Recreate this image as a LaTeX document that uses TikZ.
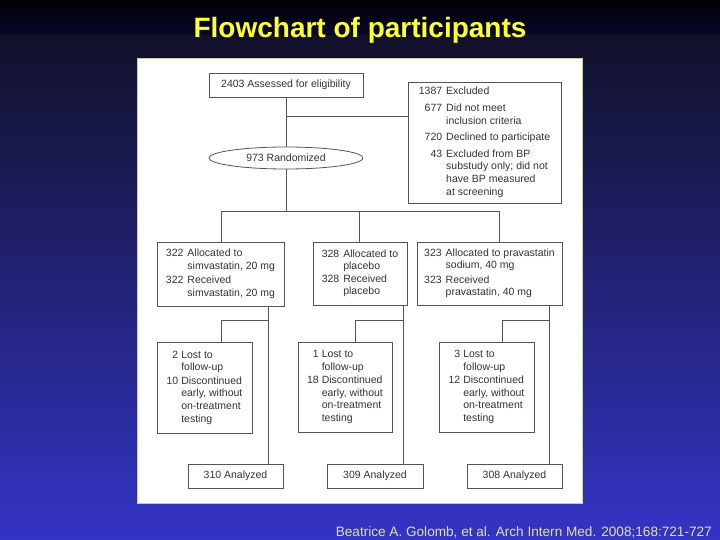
\documentclass[tikz,border=0pt]{standalone}
\usepackage{fontspec}
\setmainfont{Liberation Sans}
\usepackage{tikz}
\usetikzlibrary{shapes.geometric, positioning, calc}
\definecolor{ink}{HTML}{333333}
\definecolor{rule}{HTML}{555555}
\definecolor{titleyellow}{HTML}{FFFF2E}
\definecolor{citeyellow}{HTML}{E2E2A6}
\definecolor{panelline}{HTML}{CBCBA9}
\definecolor{bgtopA}{HTML}{000006}
\definecolor{bgtopB}{HTML}{08082A}
\definecolor{bgA}{HTML}{11112A}
\definecolor{bgB}{HTML}{3434C6}
\newcommand{\chartfont}{\fontsize{10.5}{12.6}\selectfont}

\begin{document}
\begin{tikzpicture}[x=1pt, y=-1pt,
    box/.style={draw=rule, line width=0.6pt, fill=white, text=ink, font=\chartfont, inner sep=0pt},
    link/.style={draw=rule, line width=0.6pt}]
    \useasboundingbox (0,0) rectangle (720,540);
    % Slide background
    \fill[top color=bgtopA, bottom color=bgtopB] (0,0) rectangle (720,36);
    \fill[top color=bgA, bottom color=bgB] (0,36) rectangle (720,540);
    \node[font=\fontsize{28}{32}\selectfont\bfseries, text=titleyellow] (title) at (360,30) {Flowchart of participants};
    \node[anchor=east, inner sep=0pt, font=\fontsize{13.6}{15}\selectfont, text=citeyellow] (cite) at (712,532) {Beatrice A. Golomb, et al. Arch Intern Med. 2008;168:721-727};
    \filldraw[fill=white, draw=panelline, line width=1pt] (137,59) rectangle (582,503);

    % Enrolment
    \node[box, minimum width=154pt, minimum height=24pt] (assess) at (286,85) {2403 Assessed for eligibility};
    \node[box, ellipse, line width=0.8pt, minimum width=154pt, minimum height=22pt] (rand) at (286,158) {973 Randomized};
    \node[box, minimum width=153pt, minimum height=121pt] (excl) at (484.5,142.5) {\begin{tabular}{@{}r@{\hspace{4pt}}l@{}}
        1387 & Excluded\\[4pt]
        677 & Did not meet\\
        & inclusion criteria\\[4pt]
        720 & Declined to participate\\[4pt]
        43 & Excluded from BP\\
        & substudy only; did not\\
        & have BP measured\\
        & at screening
    \end{tabular}};

    % Allocation
    \node[box, minimum width=127pt, minimum height=64pt] (alloc1) at (220.5,274) {\begin{tabular}{@{}r@{\hspace{4pt}}l@{}}
        322 & Allocated to\\
        & simvastatin, 20 mg\\[2pt]
        322 & Received\\
        & simvastatin, 20 mg
    \end{tabular}};
    \node[box, minimum width=94pt, minimum height=63pt] (alloc2) at (360,273.5) {\begin{tabular}{@{}r@{\hspace{4pt}}l@{}}
        328 & Allocated to\\
        & placebo\\
        328 & Received\\
        & placebo
    \end{tabular}};
    \node[box, minimum width=145pt, minimum height=63pt] (alloc3) at (489.5,273.5) {\begin{tabular}{@{}r@{\hspace{4pt}}l@{}}
        323 & Allocated to pravastatin\\
        & sodium, 40 mg\\[2pt]
        323 & Received\\
        & pravastatin, 40 mg
    \end{tabular}};

    % Follow-up
    \node[box, minimum width=95pt, minimum height=91pt] (lost1) at (204.5,387.5) {\begin{tabular}{@{}r@{\hspace{3pt}}l@{}}
        2 & Lost to\\
        & follow-up\\[1pt]
        10 & Discontinued\\
        & early, without\\
        & on-treatment\\
        & testing
    \end{tabular}};
    \node[box, minimum width=94pt, minimum height=90pt] (lost2) at (345,387) {\begin{tabular}{@{}r@{\hspace{3pt}}l@{}}
        1 & Lost to\\
        & follow-up\\[1pt]
        18 & Discontinued\\
        & early, without\\
        & on-treatment\\
        & testing
    \end{tabular}};
    \node[box, minimum width=95pt, minimum height=90pt] (lost3) at (486.5,387) {\begin{tabular}{@{}r@{\hspace{3pt}}l@{}}
        3 & Lost to\\
        & follow-up\\[1pt]
        12 & Discontinued\\
        & early, without\\
        & on-treatment\\
        & testing
    \end{tabular}};

    % Analysis
    \node[box, minimum width=95pt, minimum height=24pt] (ana1) at (235.5,476) {310 Analyzed};
    \node[box, minimum width=96pt, minimum height=24pt] (ana2) at (375,476) {309 Analyzed};
    \node[box, minimum width=95pt, minimum height=24pt] (ana3) at (514.5,476) {308 Analyzed};

    % Connectors
    \coordinate (xsplit) at (286,116);
    \coordinate (armL) at (221,211);
    \coordinate (armM) at (359,211);
    \coordinate (armR) at (499,211);
    \draw[link] (assess.south) -- (rand.north);
    \draw[link] (xsplit) -- (xsplit -| excl.west);
    \draw[link] (rand.south) -- (rand.south |- armL);
    \draw[link] (armL) -- (armR);
    \draw[link] (armL) -- (armL |- alloc1.north);
    \draw[link] (armM) -- (armM |- alloc2.north);
    \draw[link] (armR) -- (armR |- alloc3.north);

    \coordinate (down1) at (268,320);
    \coordinate (side1) at (221,320);
    \coordinate (down2) at (403,320);
    \coordinate (side2) at (355,320);
    \coordinate (down3) at (549,320);
    \coordinate (side3) at (502,320);
    \draw[link] (down1 |- alloc1.south) -- (down1 |- ana1.north);
    \draw[link] (down1) -- (side1) -- (side1 |- lost1.north);
    \draw[link] (down2 |- alloc2.south) -- (down2 |- ana2.north);
    \draw[link] (down2) -- (side2) -- (side2 |- lost2.north);
    \draw[link] (down3 |- alloc3.south) -- (down3 |- ana3.north);
    \draw[link] (down3) -- (side3) -- (side3 |- lost3.north);
\end{tikzpicture}
\end{document}
